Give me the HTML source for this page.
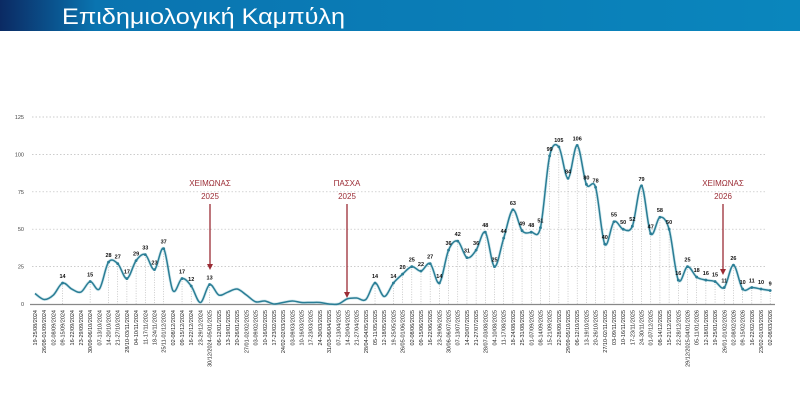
<!DOCTYPE html>
<html><head><meta charset="utf-8">
<style>
html,body{margin:0;padding:0;background:#fff;}
svg{display:block;font-family:"Liberation Sans",sans-serif;}
</style></head>
<body>
<svg id="s" width="800" height="401" viewBox="0 0 800 401" xmlns="http://www.w3.org/2000/svg">
<defs>
<linearGradient id="hg" x1="0" x2="1" y1="0" y2="0">
<stop offset="0" stop-color="#0b2a63"/>
<stop offset="0.12" stop-color="#0a74b0"/>
<stop offset="1" stop-color="#0a86bd"/>
</linearGradient>
</defs>
<rect x="0" y="0" width="800" height="31" fill="url(#hg)"/>
<text x="62" y="24" font-size="22" fill="#fff" textLength="283" lengthAdjust="spacingAndGlyphs">Επιδημιολογική Καμπύλη</text>
<g id="g"></g>
</svg>
<script>
var vals=[7,3,6,14,10,8,15,10,28,27,17,29,33,23,37,9,17,12,1,13,6,8,10,6,1.5,2,0,1,2,1,1,1,0,0,3.5,4,3,14,5,14,20,25,22,27,14,36,42,31,36,48,25,44,63,49,48,51,99,105,84,106,80,78,40,55,50,52,79,47,58,50,16,25,18,16,15,11,26,10,11,10,9];
var labeled={3:1,6:1,8:1,9:1,10:1,11:1,12:1,13:1,14:1,16:1,17:1,19:1,37:1,39:1,40:1,41:1,42:1,43:1,44:1,45:1,46:1,47:1,48:1,49:1,50:1,51:1,52:1,53:1,54:1,55:1};
for(var i=56;i<81;i++)labeled[i]=1;
var X0=35,DX=9.19,Y0=304,SY=1.496;
function X(i){return X0+i*DX}function Y(v){return Y0-v*SY}
var h='';
[25,50,75,100,125].forEach(function(v){h+='<line x1="32" x2="767" y1="'+Y(v)+'" y2="'+Y(v)+'" stroke="#bbb" stroke-width="0.7" stroke-dasharray="1.5,2"/>';});
[0,25,50,75,100,125].forEach(function(v){h+='<text x="24" y="'+(Y(v)+2)+'" font-size="5.5" fill="#444" text-anchor="end">'+v+'</text>';});
for(var i=0;i<81;i++){if(labeled[i])h+='<line x1="'+X(i)+'" x2="'+X(i)+'" y1="'+Y(vals[i])+'" y2="304" stroke="#aaa" stroke-width="0.6" stroke-dasharray="1,1.5"/>';}
h+='<line x1="30" x2="775" y1="304.5" y2="304.5" stroke="#888" stroke-width="1.2"/>';
var d='M'+X(0)+','+Y(vals[0]);
for(var i=0;i<80;i++){var p0=i?i-1:0,p3=i+2>80?80:i+2;
var c1x=X(i)+(X(i+1)-X(p0))/6,c1y=Y(vals[i])+(Y(vals[i+1])-Y(vals[p0]))/6;
var c2x=X(i+1)-(X(p3)-X(i))/6,c2y=Y(vals[i+1])-(Y(vals[p3])-Y(vals[i]))/6;
d+=' C'+c1x.toFixed(2)+','+c1y.toFixed(2)+' '+c2x.toFixed(2)+','+c2y.toFixed(2)+' '+X(i+1).toFixed(2)+','+Y(vals[i+1]).toFixed(2);}
h+='<path d="'+d+'" fill="none" stroke="#a8d4de" stroke-width="3" opacity="0.5"/>';
h+='<path d="'+d+'" fill="none" stroke="#2a7d95" stroke-width="1.5"/>';
for(var i=0;i<81;i++){if(labeled[i]){h+='<circle cx="'+X(i)+'" cy="'+Y(vals[i])+'" r="1.4" fill="#2a7d95"/>';
h+='<text x="'+X(i)+'" y="'+(Y(vals[i])-5)+'" font-size="5.5" font-weight="bold" text-anchor="middle" fill="#111">'+vals[i]+'</text>';}}
var start=new Date(Date.UTC(2024,7,19));
function f(n){return (n<10?'0':'')+n}
for(var i=0;i<81;i++){var a=new Date(start.getTime()+i*7*864e5),b=new Date(a.getTime()+6*864e5);
var s=a.getUTCMonth()==b.getUTCMonth()?f(a.getUTCDate())+'-'+f(b.getUTCDate())+'/'+f(b.getUTCMonth()+1)+'/'+b.getUTCFullYear():
(a.getUTCFullYear()!=b.getUTCFullYear()?f(a.getUTCDate())+'/'+f(a.getUTCMonth()+1)+'/'+a.getUTCFullYear()+'-'+f(b.getUTCDate())+'/'+f(b.getUTCMonth()+1)+'/'+b.getUTCFullYear():f(a.getUTCDate())+'/'+f(a.getUTCMonth()+1)+'-'+f(b.getUTCDate())+'/'+f(b.getUTCMonth()+1)+'/'+b.getUTCFullYear());
h+='<text transform="translate('+(X(i)+2)+',310) rotate(-90)" font-size="5.5" fill="#222" text-anchor="end">'+s+'</text>';}
function ann(x,t1,t2,y2){h+='<text x="'+x+'" y="186" font-size="8" fill="#9b2c35" text-anchor="middle">'+t1+'</text><text x="'+x+'" y="199" font-size="8" fill="#9b2c35" text-anchor="middle">'+t2+'</text>';
h+='<line x1="'+x+'" x2="'+x+'" y1="204" y2="'+(y2-5)+'" stroke="#9b2c35" stroke-width="1.3"/><path d="M'+(x-3)+','+(y2-6)+' L'+(x+3)+','+(y2-6)+' L'+x+','+y2+' Z" fill="#9b2c35"/>';}
ann(210,'ΧΕΙΜΩΝΑΣ','2025',270);
ann(347,'ΠΑΣΧΑ','2025',298);
ann(723,'ΧΕΙΜΩΝΑΣ','2026',275);
document.getElementById('g').innerHTML=h;
</script>
</body></html>
